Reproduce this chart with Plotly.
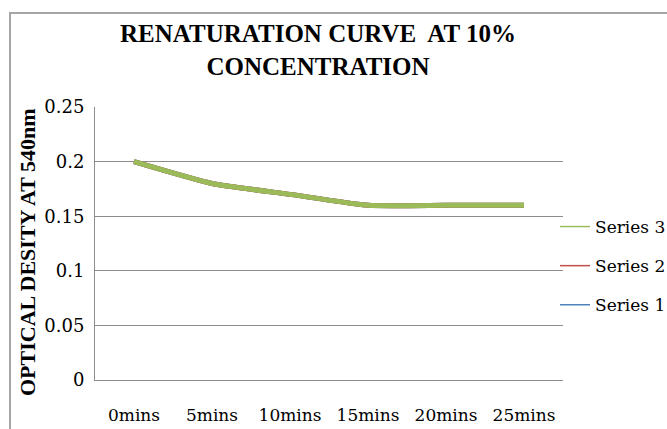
import plotly.graph_objects as go

categories = ["0mins", "5mins", "10mins", "15mins", "20mins", "25mins"]
series1 = [0.2, 0.18, 0.17, 0.16, 0.16, 0.16]
series2 = [0.2, 0.18, 0.17, 0.16, 0.16, 0.16]
series3 = [0.2, 0.18, 0.17, 0.16, 0.16, 0.16]
series_names = ["Series 1", "Series 2", "Series 3"]
series_colors = ["#4F81BD", "#C0504D", "#9BBB59"]
legend_ranks = [3, 2, 1]
y_ticks = [0, 0.05, 0.1, 0.15, 0.2, 0.25]
y_ticklabels = ["0", "0.05", "0.1", "0.15", "0.2", "0.25"]

W, H = 667, 429
L, R, T, B = 95, 104, 107, 49
pw, ph = W - L - R, H - T - B

fig = go.Figure()
for name, vals, col in zip(series_names, [series1, series2, series3], series_colors):
    fig.add_trace(go.Scatter(
        x=categories, y=vals, name=name, mode="lines", showlegend=False,
        line=dict(color=col, width=5, shape="spline", smoothing=0.5),
    ))
# legend entries (thin line keys, as in the original legend)
for name, col, rank in zip(series_names, series_colors, legend_ranks):
    fig.add_trace(go.Scatter(
        x=[None], y=[None], name=name, mode="lines", legendgroup=name,
        legendrank=rank, line=dict(color=col, width=1.5), hoverinfo="skip",
    ))

def px_x(x):
    return (x - L) / pw

def px_y(y):
    return (H - B - y) / ph

fig.update_layout(
    width=W, height=H,
    margin=dict(l=L, r=R, t=T, b=B, autoexpand=False),
    paper_bgcolor="white", plot_bgcolor="white",
    font=dict(family="DejaVu Serif", size=17, color="#000000"),
    title=dict(
        text="RENATURATION CURVE  AT 10%<br>CONCENTRATION",
        font=dict(family="Liberation Serif", size=25, color="#000000", weight="bold"),
        x=318 / W, xanchor="center", y=1 - 42 / H, yanchor="top",
    ),
    xaxis=dict(
        type="category", range=[-0.5, 5.5], automargin=False,
        showgrid=False, showline=True, linecolor="#8c8c8c", linewidth=1,
        ticks="outside", ticklen=20, tickcolor="rgba(0,0,0,0)",
        tickfont=dict(family="DejaVu Serif", size=17, color="#000"),
        zeroline=False,
    ),
    yaxis=dict(
        range=[0, 0.25], tickvals=y_ticks, ticktext=y_ticklabels, automargin=False,
        showgrid=True, gridcolor="#8c8c8c", gridwidth=1,
        showline=True, linecolor="#8c8c8c", linewidth=1,
        ticks="outside", ticklen=6, tickcolor="rgba(0,0,0,0)",
        tickfont=dict(family="DejaVu Serif", size=18, color="#000"),
        zeroline=False,
    ),
    annotations=[dict(
        text="<b>OPTICAL DESITY AT 540nm</b>", textangle=-90,
        xref="paper", yref="paper", x=px_x(27), y=px_y(252),
        xanchor="center", yanchor="middle", showarrow=False,
        font=dict(family="Liberation Serif", size=22, color="#000"),
    )],
    legend=dict(
        x=px_x(555), xanchor="left", y=px_y(209), yanchor="top",
        traceorder="grouped", tracegroupgap=14,
        bgcolor="rgba(0,0,0,0)", borderwidth=0,
        font=dict(family="DejaVu Serif", size=17, color="#000"),
    ),
    showlegend=True,
    shapes=[dict(
        type="rect", xref="paper", yref="paper",
        x0=px_x(10), x1=px_x(672), y0=px_y(434), y1=px_y(13),
        line=dict(color="#a6a6a6", width=2), fillcolor="rgba(0,0,0,0)", layer="below",
    )],
)

fig.write_html(
    "out.html",
    config={"displayModeBar": False},
    post_script="document.body.style.margin='0';document.body.style.padding='0';",
)
